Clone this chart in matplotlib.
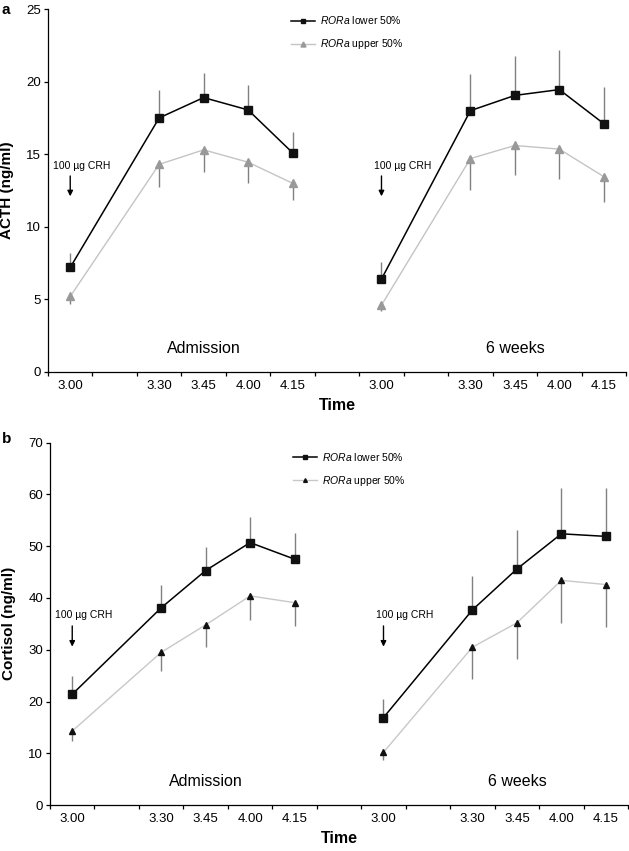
import matplotlib
matplotlib.use('Agg')
import matplotlib.pyplot as plt
import numpy as np

plt.rcParams['font.family'] = ['Liberation Sans', 'DejaVu Sans']
plt.rcParams['mathtext.fontset'] = 'custom'
plt.rcParams['mathtext.it'] = 'Liberation Sans:italic'
plt.rcParams['mathtext.rm'] = 'Liberation Sans'

# sampling times (minutes after 3.00) and their labels
minutes = [0, 30, 45, 60, 75]
time_labels = ['3.00', '3.30', '3.45', '4.00', '4.15']
visits = ['Admission', '6 weeks']

# ACTH (ng/ml): means and one-sided SEM bars
acth_low = {'Admission': [7.2, 17.5, 18.9, 18.05, 15.1],
            '6 weeks': [6.4, 18.0, 19.05, 19.45, 17.1]}
acth_low_err = {'Admission': [1.0, 1.9, 1.7, 1.7, 1.4],
                '6 weeks': [1.15, 2.5, 2.7, 2.75, 2.5]}
acth_up = {'Admission': [5.2, 14.3, 15.3, 14.45, 13.0],
           '6 weeks': [4.6, 14.7, 15.6, 15.35, 13.45]}
acth_up_err = {'Admission': [0.5, 1.55, 1.55, 1.45, 1.15],
               '6 weeks': [0.4, 2.2, 2.05, 2.05, 1.75]}

# Cortisol (ng/ml)
cort_low = {'Admission': [21.4, 38.1, 45.3, 50.7, 47.5],
            '6 weeks': [16.9, 37.7, 45.6, 52.4, 51.9]}
cort_low_err = {'Admission': [3.5, 4.5, 4.6, 5.0, 5.0],
                '6 weeks': [3.5, 6.6, 7.5, 8.9, 9.4]}
cort_up = {'Admission': [14.3, 29.5, 34.8, 40.4, 39.1],
           '6 weeks': [10.2, 30.5, 35.2, 43.4, 42.6]}
cort_up_err = {'Admission': [1.9, 3.7, 4.2, 4.7, 4.5],
               '6 weeks': [1.5, 6.2, 7.0, 8.2, 8.3]}

fig = plt.figure(figsize=(6.29, 8.51), dpi=100)
ax_a = fig.add_axes([0.0763, 0.5629, 0.919, 0.4265])
ax_b = fig.add_axes([0.0795, 0.054, 0.919, 0.4258])


def xpos(visit_idx):
    return np.array(minutes) / 15 + 0.5 + 7 * visit_idx


def panel(ax, low, low_err, up, up_err, ymax, ystep, ylabel, label_y,
          crh_text_y, arrow_top, arrow_bot, gray_marker_col, gray_ms,
          gray_line_col, leg_y):
    for i, v in enumerate(visits):
        x = xpos(i)
        ax.errorbar(x, low[v], yerr=[np.zeros(5), low_err[v]], fmt='none',
                    ecolor='#808080', elinewidth=1.0, capsize=0, zorder=1)
        ax.errorbar(x, up[v], yerr=[up_err[v], np.zeros(5)], fmt='none',
                    ecolor='#808080', elinewidth=1.0, capsize=0, zorder=1)
        l1, = ax.plot(x, low[v], color='black', lw=1.1, marker='s', ms=6,
                      mfc='#111111', mec='#111111', zorder=3,
                      label=r'$\it{RORa}$ lower 50%')
        l2, = ax.plot(x, up[v], color=gray_line_col, lw=1.0, marker='^',
                      ms=gray_ms, mfc=gray_marker_col, mec=gray_marker_col,
                      zorder=2, label=r'$\it{RORa}$ upper 50%')
        ax.text(x[2], label_y, v, ha='center', va='center', fontsize=11.5)
        ax.text(x[0] + 0.25 + (0.23 if i else 0), crh_text_y, '100 µg CRH',
                ha='center', va='center', fontsize=7.5)
        ax.annotate('', xy=(x[0], arrow_bot), xytext=(x[0], arrow_top),
                    arrowprops=dict(arrowstyle='-|>', color='black', lw=1.0,
                                    mutation_scale=8, shrinkA=0, shrinkB=0))
    ax.legend([l1, l2], [l1.get_label(), l2.get_label()], loc='upper left',
              bbox_to_anchor=(0.42, leg_y), frameon=False, fontsize=7.5,
              handlelength=2.3, handletextpad=0.5, labelspacing=1.05,
              borderpad=0, borderaxespad=0, markerscale=0.6)

    ax.set_xlim(0, 13)
    ax.set_ylim(0, ymax)
    ax.set_yticks(np.arange(0, ymax + 1, ystep))
    ax.set_xticks(np.arange(0, 14))
    ax.set_xticklabels([])
    ax.set_xticks(np.concatenate([xpos(0), xpos(1)]), minor=True)
    ax.set_xticklabels(time_labels * 2, minor=True)
    ax.tick_params(axis='x', which='minor', length=0, pad=6, labelsize=9.5)
    ax.tick_params(axis='x', which='major', length=3, width=0.9, direction='out')
    ax.tick_params(axis='y', length=3, width=0.9, pad=2, direction='out',
                   labelsize=9.5)
    for s in ['top', 'right']:
        ax.spines[s].set_visible(False)
    for s in ['left', 'bottom']:
        ax.spines[s].set_linewidth(0.9)
    ax.set_ylabel(ylabel, fontsize=11, fontweight='bold')
    ax.yaxis.set_label_coords(-0.058, 0.5)


panel(ax_a, acth_low, acth_low_err, acth_up, acth_up_err, 25, 5,
      'ACTH (ng/ml)', 1.65, 14.2, 13.5, 12.1, '#999999', 6, '#c4c4c4', 0.985)
panel(ax_b, cort_low, cort_low_err, cort_up, cort_up_err, 70, 10,
      'Cortisol (ng/ml)', 4.6, 36.8, 34.6, 30.6, '#111111', 4.5, '#c8c8c8', 0.977)

ax_a.set_xlabel('Time', fontsize=11.5, fontweight='bold', labelpad=4)
ax_b.set_xlabel('Time', fontsize=11.5, fontweight='bold', labelpad=4)

fig.text(0.002, 0.997, 'a', fontsize=11, fontweight='bold', va='top')
fig.text(0.003, 0.492, 'b', fontsize=11, fontweight='bold', va='top')

fig.savefig('out.png', dpi=100)
